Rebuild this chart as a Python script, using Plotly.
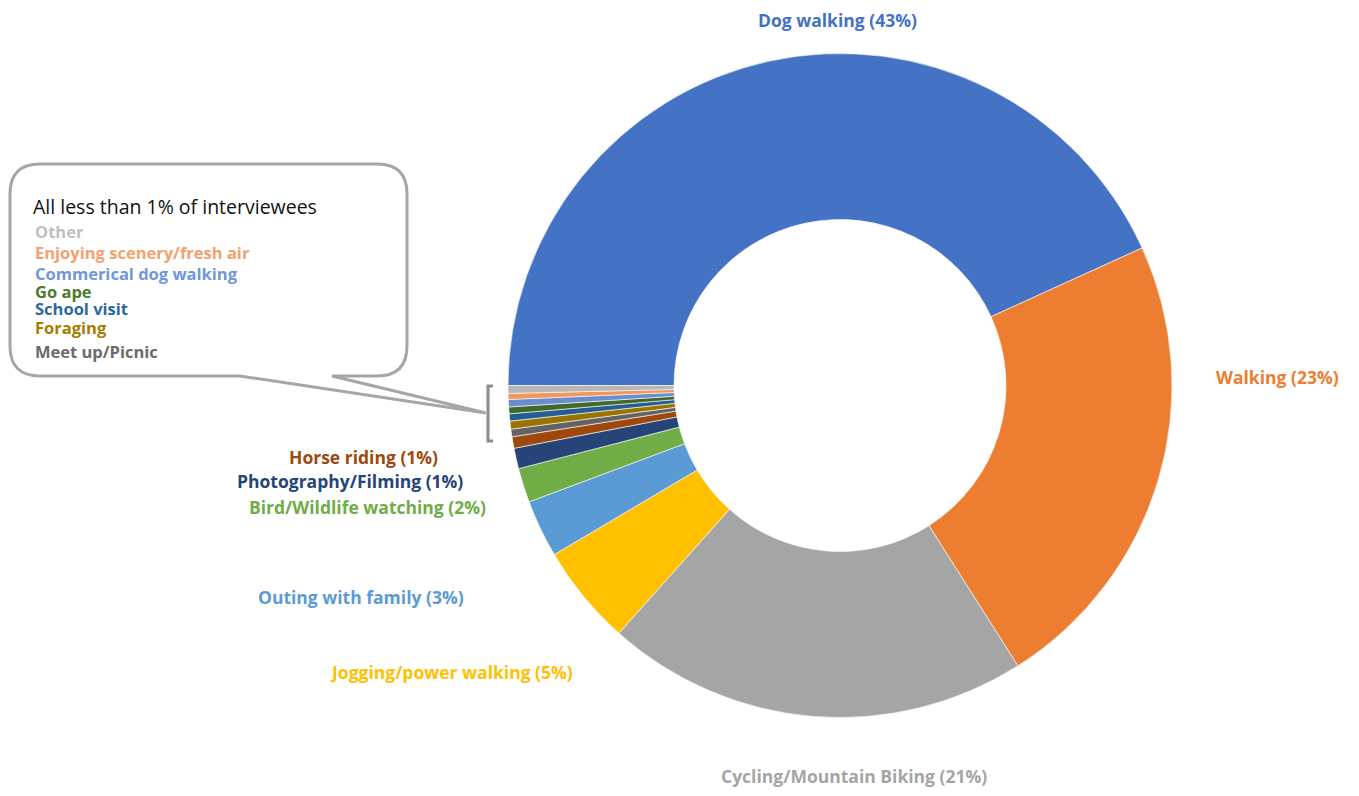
import plotly.graph_objects as go

W, H = 1343, 780
OFF = 8  # page body margin

activities = ["Dog walking", "Walking", "Cycling/Mountain Biking", "Jogging/power walking",
              "Outing with family", "Bird/Wildlife watching", "Photography/Filming", "Horse riding",
              "Meet up/Picnic", "Foraging", "School visit", "Go ape", "Commerical dog walking",
              "Enjoying scenery/fresh air", "Other"]
shares = [43.2, 22.8, 20.6, 4.9, 2.8, 1.67, 1.0, 0.56, 0.37, 0.39, 0.35, 0.33, 0.36, 0.29, 0.38]
pct_labels = ["43%", "23%", "21%", "5%", "3%", "2%", "1%", "1%", "", "", "", "", "", "", ""]
colors = ["#4472C4", "#ED7D31", "#A5A5A5", "#FFC000", "#5B9BD5", "#70AD47", "#264478", "#9E480E",
          "#636363", "#997300", "#255E91", "#43682B", "#698ED0", "#F1975A", "#B7B7B7"]

callout_title = "All less than 1% of interviewees"
callout_items = ["Other", "Enjoying scenery/fresh air", "Commerical dog walking", "Go ape",
                 "School visit", "Foraging", "Meet up/Picnic"]
callout_colors = ["#BFBFBF", "#F4A16E", "#6F97DA", "#4A7A2C", "#2C69A3", "#A37D00", "#6B6B6B"]


def px(x):
    return (x - OFF) / W


def py(y):
    return 1 - (y - OFF) / H


fig = go.Figure(go.Pie(
    labels=activities, values=shares, sort=False, direction="clockwise", rotation=270,
    hole=0.5, textinfo="none", marker=dict(colors=colors, line=dict(color="white", width=0.6)),
    domain=dict(x=[px(508), px(1172)], y=[py(717.5), py(53.5)]), showlegend=False,
))

# outside labels (pixel anchor positions)
label_pos = {
    0: (837, 20), 1: (1277, 377), 2: (854, 776), 3: (451, 672), 4: (361, 597),
    5: (367, 507), 6: (350, 481), 7: (363, 457),
}
annotations = []
for i, (x, y) in label_pos.items():
    annotations.append(dict(
        x=px(x), y=py(y), xref="paper", yref="paper", showarrow=False,
        text=f"{activities[i]} ({pct_labels[i]})", xanchor="center", yanchor="middle",
        font=dict(family="Open Sans", size=17.5, color=colors[i], weight="bold"),
    ))

annotations.append(dict(x=px(31), y=py(206), xref="paper", yref="paper", showarrow=False,
                        text=callout_title, xanchor="left", yanchor="middle",
                        font=dict(family="Open Sans", size=19.5, color="#111111")))
item_y = [231, 252, 273, 291, 308, 327, 351]
for name, c, y in zip(callout_items, callout_colors, item_y):
    annotations.append(dict(x=px(33), y=py(y), xref="paper", yref="paper", showarrow=False,
                            text=name, xanchor="left", yanchor="middle",
                            font=dict(family="Open Sans", size=16.5, color=c, weight="bold")))


def P(x, y):
    return f"{px(x):.5f},{py(y):.5f}"


x0, x1, y0, y1, r = 10, 407, 164, 376, 30
path = (f"M {P(x0 + r, y0)} L {P(x1 - r, y0)} Q {P(x1, y0)} {P(x1, y0 + r)} "
        f"L {P(x1, y1 - r)} Q {P(x1, y1)} {P(x1 - r, y1)} L {P(332, y1)} L {P(486, 413)} "
        f"L {P(240, y1)} L {P(x0 + r, y1)} Q {P(x0, y1)} {P(x0, y1 - r)} "
        f"L {P(x0, y0 + r)} Q {P(x0, y0)} {P(x0 + r, y0)} Z")
bracket = f"M {P(493, 386)} L {P(488, 386)} L {P(488, 441)} L {P(493, 441)}"

shapes = [
    dict(type="path", path=path, xref="paper", yref="paper",
         line=dict(color="#A6A6A6", width=3), fillcolor="rgba(255,255,255,0)"),
    dict(type="path", path=bracket, xref="paper", yref="paper",
         line=dict(color="#8C8C8C", width=3)),
]

fig.update_layout(width=W, height=H, margin=dict(l=0, r=0, t=0, b=0),
                  paper_bgcolor="white", plot_bgcolor="white",
                  annotations=annotations, shapes=shapes)
fig.write_html("out.html")
